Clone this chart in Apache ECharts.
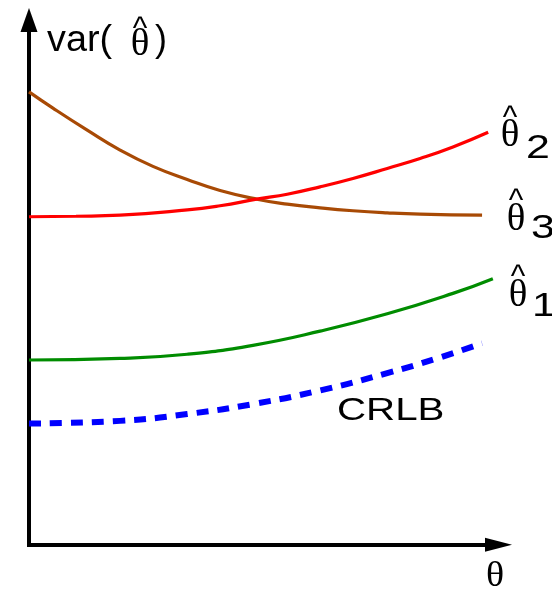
<!DOCTYPE html>
<html>
<head>
<meta charset="utf-8">
<script src="https://cdn.jsdelivr.net/npm/echarts@6/dist/echarts.min.js"></script>
<style>
html,body{margin:0;padding:0;background:#fff;}
#chart{width:552px;height:591px;}
</style>
</head>
<body>
<div id="chart"></div>
<script>
// theta (x) positions and var values for each estimator curve (axis units 0..100)
const theta3 = [0, 5.1, 12.4, 19.4, 26.4, 33.7, 40.7, 48.8, 55.0, 62.0, 69.0, 76.3, 83.3, 96.5];
const var3   = [86.3, 83.2, 79.0, 75.2, 72.1, 69.6, 67.5, 65.8, 64.9, 64.2, 63.65, 63.25, 63.0, 62.8];

const theta2 = [0, 10.0, 19.4, 33.7, 40.7, 48.8, 55.0, 62.0, 69.0, 76.3, 83.3, 90.3, 97.8];
const var2   = [62.5, 62.6, 62.8, 63.8, 64.6, 65.9, 66.8, 68.2, 69.8, 71.7, 73.6, 75.8, 78.6];

const theta1 = [0, 19.4, 33.7, 47.7, 62.0, 76.3, 90.3, 98.8];
const var1   = [35.2, 35.5, 36.3, 38.0, 40.7, 44.0, 47.9, 50.7];

const thetaC = [0, 19.4, 33.7, 47.7, 62.0, 76.3, 86.9, 96.5];
const varC   = [23.1, 23.6, 24.9, 26.8, 29.4, 32.7, 35.5, 38.4];

const pairs = (xs, ys) => xs.map((x, i) => [x, ys[i]]);

const SANS = '"Liberation Sans", Arial, Helvetica, sans-serif';
const SERIF = '"Liberation Serif", "Times New Roman", serif';

function txt(x, y, s, size, family, align, scaleX) {
  return {
    type: 'text', x: x, y: y, scaleX: scaleX || 1, z: 100,
    style: { text: s, font: size + 'px ' + family, fill: '#000',
             align: align || 'left', verticalAlign: 'middle' }
  };
}
function hatTheta(cx, cy, hatY) {
  return [
    txt(cx, cy, 'θ', 37, SERIF, 'center', 1.05),
    txt(cx, hatY, '^', 31, SANS, 'center')
  ];
}

const graphics = [].concat(
  [txt(47, 41, 'var(', 36, SANS, 'left', 1.05)],
  hatTheta(140, 45, 29),
  [txt(155, 41, ')', 36, SANS, 'left')],
  hatTheta(510, 136, 118),
  [txt(526, 149, '2', 33, SANS, 'left', 1.3)],
  hatTheta(516, 220, 201),
  [txt(531, 229, '3', 33, SANS, 'left', 1.3)],
  hatTheta(518, 296, 277),
  [txt(532, 307, '1', 33, SANS, 'left', 1.3)],
  [txt(337, 411, 'CRLB', 31, SANS, 'left', 1.3)],
  [txt(495, 577, 'θ', 36, SERIF, 'center', 1.05)]
);

const chart = echarts.init(document.getElementById('chart'), null, { renderer: 'canvas' });
const lineCommon = { type: 'line', smooth: 0.5, showSymbol: false };
chart.setOption({
  backgroundColor: '#fff',
  animation: false,
  grid: { left: 29, right: 53.5, top: 20, bottom: 46.3, containLabel: false },
  xAxis: {
    type: 'value', min: 0, max: 100,
    axisLine: { show: true, symbol: ['none', 'triangle'], symbolSize: [14, 27],
                lineStyle: { color: '#000', width: 4, cap: 'square' } },
    axisTick: { show: false }, axisLabel: { show: false }, splitLine: { show: false }
  },
  yAxis: {
    type: 'value', min: 0, max: 100,
    axisLine: { show: true, symbol: ['none', 'triangle'], symbolSize: [17, 24],
                lineStyle: { color: '#000', width: 4, cap: 'square' } },
    axisTick: { show: false }, axisLabel: { show: false }, splitLine: { show: false }
  },
  series: [
    Object.assign({ data: pairs(theta3, var3), lineStyle: { color: '#a84a05', width: 3.2 } }, lineCommon),
    Object.assign({ data: pairs(theta2, var2), lineStyle: { color: '#ff0000', width: 3.2 } }, lineCommon),
    Object.assign({ data: pairs(theta1, var1), lineStyle: { color: '#008c00', width: 3.2 } }, lineCommon),
    Object.assign({ data: pairs(thetaC, varC), lineStyle: { color: '#0000ff', width: 6, type: [12, 9] } }, lineCommon)
  ],
  graphic: graphics
});
</script>
</body>
</html>
